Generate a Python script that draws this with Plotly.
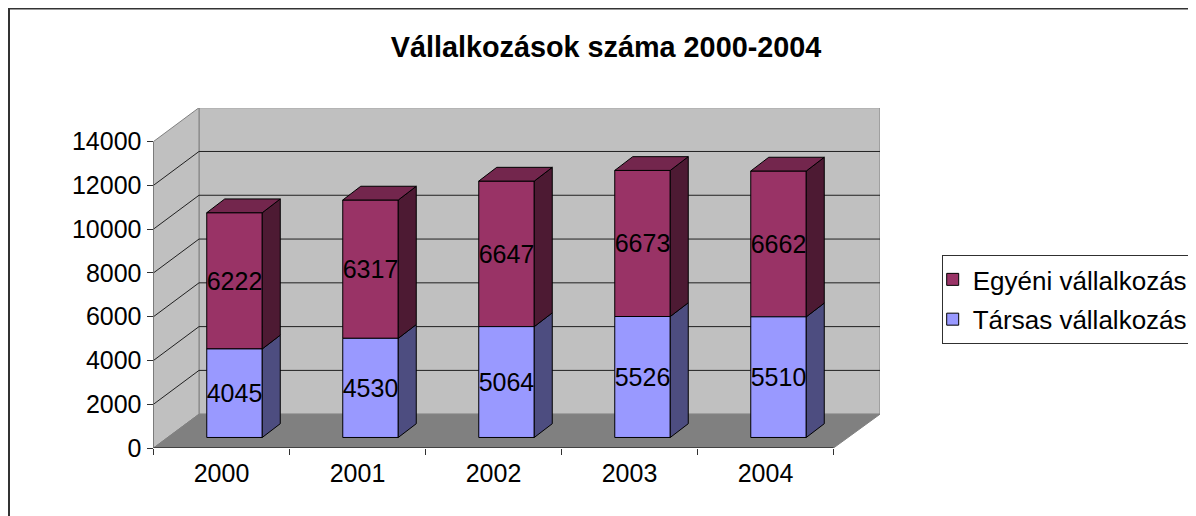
import plotly.graph_objects as go

# ---- data ----
categories = ["2000", "2001", "2002", "2003", "2004"]
tarsas = [4045, 4530, 5064, 5526, 5510]
egyeni = [6222, 6317, 6647, 6673, 6662]
y_ticks = [0, 2000, 4000, 6000, 8000, 10000, 12000, 14000]
title_text = "Vállalkozások száma 2000-2004"
name_tarsas = "Társas vállalkozás"
name_egyeni = "Egyéni vállalkozás"

# ---- geometry (pixels → axis units) ----
OFF = 8  # page margin of the browser body
W, H = 1188, 508
PX_LEFT, PX_RIGHT, PX_BOTTOM, PX_TOP = 153.5 - OFF, 880.0 - OFF, 446.3 - OFF, 107.7 - OFF
PX_PER_CAT = 136.0
PX_PER_VAL = 305.3 / 14000
def ux(p): return p / PX_PER_CAT
def uy(p): return p / PX_PER_VAL

x_lo = -0.5
x_hi = x_lo + ux(PX_RIGHT - PX_LEFT)
y_hi = uy(PX_BOTTOM - PX_TOP)
front_hi = x_lo + 5
wall_dx, wall_dy = ux(45.5), uy(33.7)
bar_dx, bar_dy = ux(13.0), uy(10.5)
side_dx, side_dy = ux(18.0), uy(13.7)
bar_w = ux(55.5)
wall_top = max(y_ticks) + wall_dy

WALL, FLOOR = "#C0C0C0", "#808080"
EDGE = "#808080"
MAROON, MAROON_SIDE, MAROON_TOP = "#993366", "#4D1A33", "#73264D"
BLUE, BLUE_SIDE = "#9999FF", "#4D4D80"
FS = 25

def poly(xs, ys):
    return "M" + "L".join(f"{a},{b}" for a, b in zip(xs, ys)) + "Z"

shapes = [
    dict(type="path", layer="below", line=dict(color=EDGE, width=1), fillcolor=WALL,
         path=poly([x_lo + wall_dx, x_hi, x_hi, x_lo + wall_dx], [wall_dy, wall_dy, wall_top, wall_top])),
    dict(type="path", layer="below", line=dict(color=EDGE, width=1), fillcolor=WALL,
         path=poly([x_lo, x_lo + wall_dx, x_lo + wall_dx, x_lo], [0, wall_dy, wall_top, max(y_ticks)])),
    dict(type="path", layer="below", line=dict(color=EDGE, width=1), fillcolor=FLOOR,
         path=poly([x_lo, x_lo + wall_dx, x_hi, front_hi], [0, wall_dy, wall_dy, 0])),
]
for v in y_ticks[1:-1]:
    shapes.append(dict(type="path", layer="below", line=dict(color="#202020", width=1),
                       path=f"M{x_lo},{v}L{x_lo + wall_dx},{v + wall_dy}L{x_hi},{v + wall_dy}"))
shapes += [
    dict(type="line", layer="below", x0=x_lo, x1=x_lo, y0=0, y1=max(y_ticks), line=dict(color="#404040", width=1)),
    dict(type="line", layer="above", x0=x_lo, x1=front_hi, y0=0, y1=0, line=dict(color="#000000", width=1)),
]

fig = go.Figure()
xc = [i + bar_dx for i in range(len(categories))]

fig.add_bar(x=xc, y=egyeni, base=[bar_dy + v for v in tarsas], width=bar_w, name=name_egyeni, legendgroup="e",
            marker=dict(color=MAROON, line=dict(color="#000000", width=1)),
            text=[str(v) for v in egyeni], textposition="inside", insidetextanchor="middle",
            textangle=0, constraintext="none", textfont=dict(color="#000000", size=FS),
            cliponaxis=False, hoverinfo="skip")
fig.add_bar(x=xc, y=tarsas, base=[bar_dy] * 5, width=bar_w, name=name_tarsas, legendgroup="t",
            marker=dict(color=BLUE, line=dict(color="#000000", width=1)),
            text=[str(v) for v in tarsas], textposition="inside", insidetextanchor="middle",
            textangle=0, constraintext="none", textfont=dict(color="#000000", size=FS),
            cliponaxis=False, hoverinfo="skip")

def face(xs, ys, color):
    fig.add_scatter(x=xs, y=ys, mode="lines", fill="toself", fillcolor=color,
                    line=dict(color="#000000", width=1), showlegend=False, hoverinfo="skip")

for c, a, b in zip(xc, tarsas, egyeni):
    r = c + bar_w / 2
    l = c - bar_w / 2
    y0, y1, y2 = bar_dy, bar_dy + a, bar_dy + a + b
    face([r, r + side_dx, r + side_dx, r, r], [y0, y0 + side_dy, y1 + side_dy, y1, y0], BLUE_SIDE)
    face([r, r + side_dx, r + side_dx, r, r], [y1, y1 + side_dy, y2 + side_dy, y2, y1], MAROON_SIDE)
    face([l, r, r + side_dx, l + side_dx, l], [y2, y2, y2 + side_dy, y2 + side_dy, y2], MAROON_TOP)

FONT = "Liberation Sans, Arial, sans-serif"
fig.update_layout(
    width=W, height=H + 16, autosize=False,
    margin=dict(l=0, r=0, t=0, b=0),
    paper_bgcolor="#FFFFFF", plot_bgcolor="rgba(0,0,0,0)",
    barmode="overlay",
    font=dict(family=FONT, size=FS, color="#000000"),
    title=dict(text=f"<b>{title_text}</b>", x=(606 - OFF) / W, xanchor="center", y=1 - (46 - OFF) / H, yanchor="middle",
               font=dict(size=28.8, family=FONT, color="#000000")),
    xaxis=dict(domain=[PX_LEFT / W, PX_RIGHT / W], range=[x_lo, x_hi], showgrid=False, zeroline=False,
               showline=False, tickmode="array", tickvals=list(range(5)), ticktext=categories,
               ticks="outside", ticklen=3, tickcolor="rgba(0,0,0,0)",
               minor=dict(tickmode="array", tickvals=[x_lo + i for i in range(6)], ticks="outside",
                          ticklen=6, tickcolor="#303030", showgrid=False),
               tickfont=dict(size=FS)),
    yaxis=dict(domain=[1 - PX_BOTTOM / H, 1 - PX_TOP / H], range=[0, y_hi], showgrid=False, zeroline=False,
               showline=False, tickmode="array", tickvals=y_ticks, ticktext=[str(v) for v in y_ticks],
               ticks="outside", ticklen=6, tickcolor="#303030", tickfont=dict(size=FS)),
    legend=dict(x=(941.7 - OFF) / W, y=1 - (254 - OFF) / H, xanchor="left", yanchor="top",
                traceorder="grouped",
                bgcolor="#FFFFFF", bordercolor="#303030", borderwidth=1, font=dict(size=26),
                indentation=-10, tracegroupgap=3),
    shapes=shapes + [
        dict(type="line", xref="paper", yref="paper", x0=1 / W, x1=1, y0=1 - 0.5 / H, y1=1 - 0.5 / H,
             line=dict(color="#333333", width=2)),
        dict(type="line", xref="paper", yref="paper", x0=1 / W, x1=1 / W, y0=0, y1=1,
             line=dict(color="#333333", width=2)),
    ],
)
fig.write_html("out.html")
